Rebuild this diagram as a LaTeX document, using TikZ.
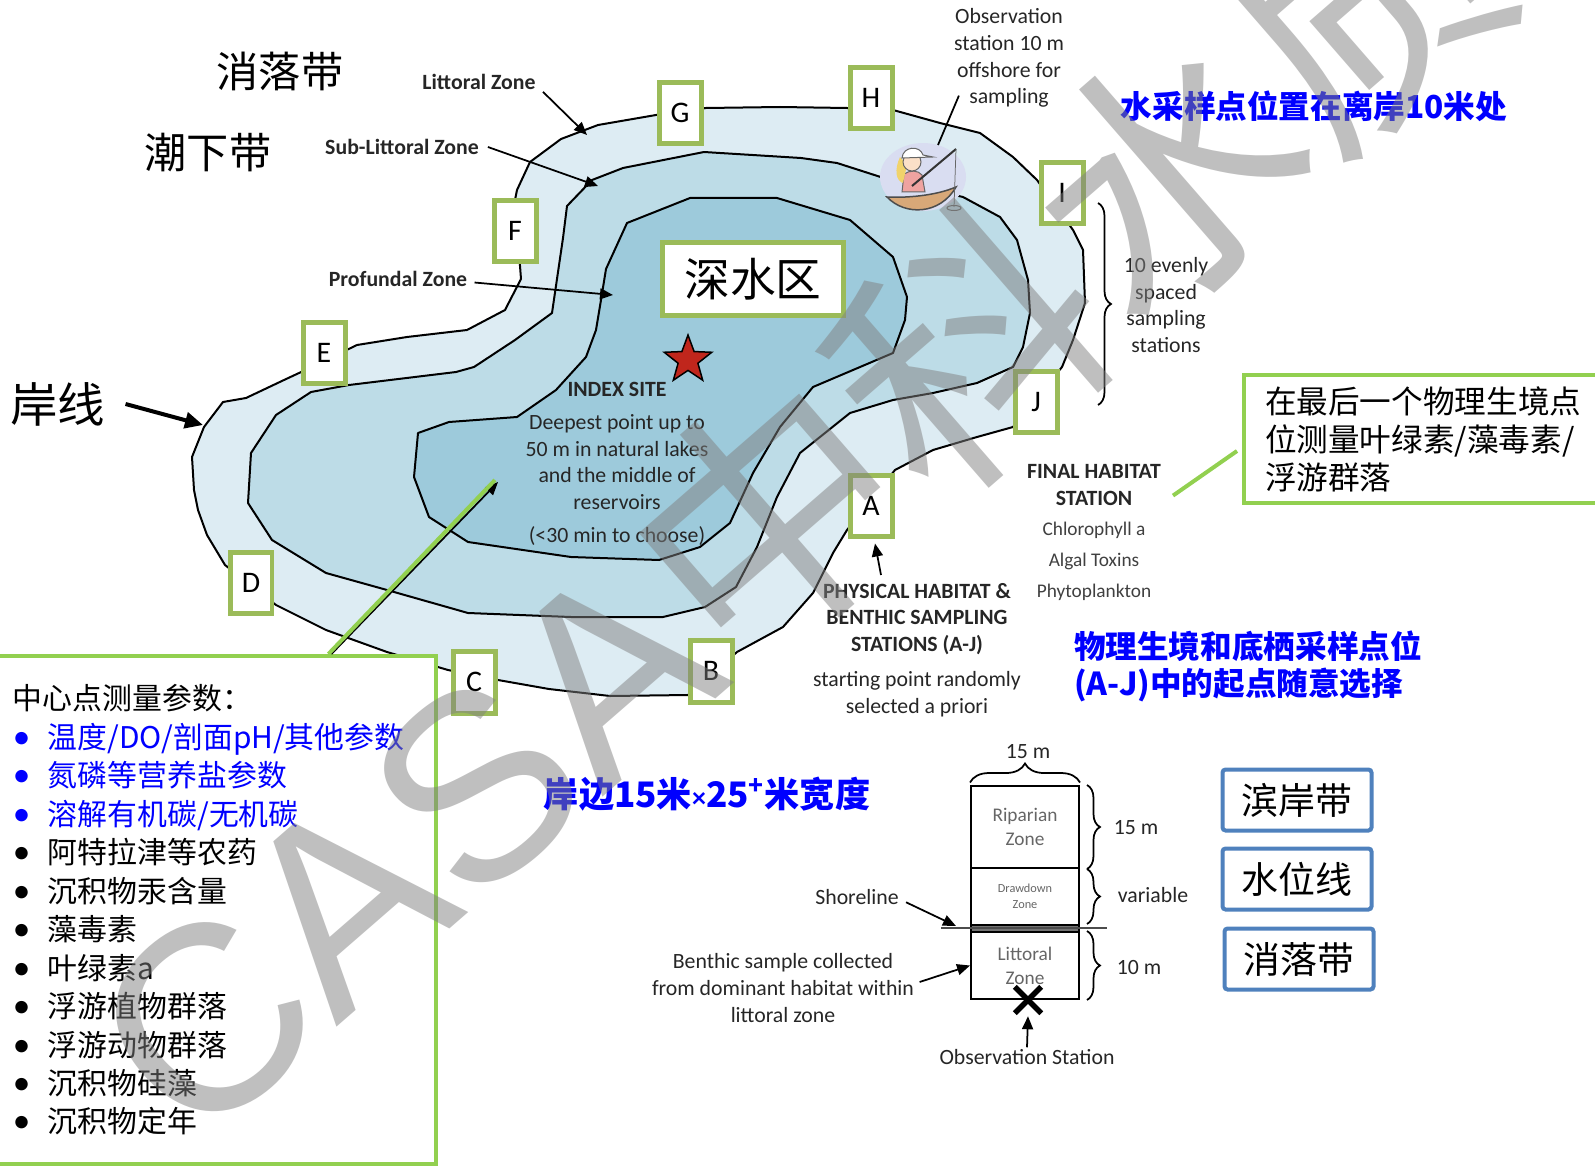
\documentclass[tikz,border=0pt]{standalone}
\usepackage{fontspec}
\setmainfont{Carlito}
\newfontfamily\cjk{Noto Sans CJK SC}
\newfontfamily\wmsans{Liberation Sans}
\usetikzlibrary{arrows.meta,shapes.geometric,shapes.misc,decorations.pathreplacing}

\definecolor{shallow}{HTML}{DDECF3}
\definecolor{midwater}{HTML}{BDDCE7}
\definecolor{deepwater}{HTML}{9DCADB}
\definecolor{olivegreen}{HTML}{9BBB59}
\definecolor{limegreen}{HTML}{92D050}
\definecolor{boxblue}{HTML}{4F81BD}
\definecolor{inkgray}{HTML}{262626}
\definecolor{starred}{HTML}{C0261C}
\definecolor{boattan}{HTML}{D8A878}
\definecolor{glow}{HTML}{D9DDF1}
\definecolor{shirtpink}{HTML}{EFA3A0}
\definecolor{skin}{HTML}{FBE0C8}
\definecolor{hairyellow}{HTML}{F1D36B}

% one bullet line of the parameter list
\newcommand\pitem[1]{\makebox[0.7cm][l]{\rmfamily\fontsize{20}{20}\selectfont\textbullet}#1}

\tikzset{
  lake/.style={draw=black, line width=0.4mm, line join=round},
  station/.style={draw=olivegreen, fill=white, line width=1mm, minimum width=0.84cm,
    minimum height=1.24cm, inner sep=0pt, font=\fontsize{17}{17}\selectfont},
  lbl/.style={inner sep=1pt, text=inkgray},
  zonelbl/.style={lbl, font=\bfseries\fontsize{12.4}{14}\selectfont},
  note/.style={lbl, align=center, font=\fontsize{12.4}{15.2}\selectfont},
  boldnote/.style={lbl, align=center, font=\bfseries\fontsize{12.4}{15.2}\selectfont},
  cjkbig/.style={inner sep=1pt, font=\cjk\fontsize{24}{28}\selectfont},
  bluenote/.style={inner sep=1pt, text=blue, font=\cjk\bfseries\fontsize{18}{21}\selectfont},
  blueframe/.style={draw=boxblue, fill=white, line width=0.8mm, rounded corners=0.06cm,
    minimum width=2.98cm, minimum height=1.22cm, font=\cjk\fontsize{21}{24}\selectfont},
  greenframe/.style={draw=limegreen, fill=white, line width=0.8mm},
  zonecell/.style={draw, line width=0.4mm, minimum width=2.16cm, inner sep=0pt,
    align=center, text=black!60},
  zonebrace/.style={decorate, decoration={brace, amplitude=0.26cm}, line width=0.35mm},
  arr/.style={-{Triangle[length=2.6mm,width=2.2mm]}, line width=0.35mm},
  bigarr/.style={-{Triangle[length=3.6mm,width=3.2mm]}, line width=0.8mm},
  callout/.style={limegreen, line width=0.8mm},
}

\begin{document}
\begin{tikzpicture}[x=0.02cm, y=-0.02cm]
\useasboundingbox (0,0) rectangle (1595,1169);

% lake zones, outermost first
\filldraw[lake, fill=shallow] (204,427) -- (192,457) -- (194,490) -- (198,510) -- (207,535)
  -- (225,565) -- (276,605) -- (326,630) -- (387,652) -- (448,670) -- (498,680) -- (549,689)
  -- (610,696) -- (688,695) -- (737,652) -- (783,627) -- (813,593) -- (833,553) -- (847,530)
  -- (895,470) -- (933,450) -- (977,437) -- (1013,427) -- (1062,367) -- (1073,340)
  -- (1085,303) -- (1083,250) -- (1073,230) -- (1037,180) -- (1013,157) -- (980,133)
  -- (940,123) -- (893,110) -- (847,108) -- (780,107) -- (706,108) -- (656,115) -- (598,125)
  -- (561,139) -- (530,162) -- (517,190) -- (515,200) -- (521,279) -- (505,310) -- (467,330)
  -- (407,337) -- (357,345) -- (299,373) -- (284,380) -- (246,398) -- (223,402) -- cycle;
\filldraw[lake, fill=midwater] (801,158) -- (704,152) -- (623,168) -- (592,180) -- (567,206)
  -- (563,238) -- (552,313) -- (515,340) -- (474,367) -- (456,372) -- (349,385) -- (311,392)
  -- (276,415) -- (251,453) -- (248,503) -- (272,540) -- (326,573) -- (387,590) -- (468,613)
  -- (571,617) -- (663,617) -- (705,607) -- (736,587) -- (757,547) -- (777,497) -- (800,453)
  -- (850,413) -- (893,400) -- (933,393) -- (977,383) -- (1013,367) -- (1023,347)
  -- (1030,313) -- (1028,280) -- (1017,240) -- (1000,217) -- (963,197) -- (890,180)
  -- (837,163) -- cycle;
\filldraw[lake, fill=deepwater] (690,198) -- (777,198) -- (850,220) -- (893,257) -- (907,297)
  -- (905,320) -- (893,353) -- (813,387) -- (780,427) -- (753,473) -- (730,523) -- (700,547)
  -- (659,560) -- (571,557) -- (468,542) -- (429,517) -- (414,477) -- (418,433) -- (449,422)
  -- (517,417) -- (556,390) -- (586,357) -- (596,330) -- (600,306) -- (606,269) -- (627,223)
  -- cycle;

% zone names on the left
\node[cjkbig] (xiaoluo) at (280,71) {消落带};
\node[cjkbig] (chaoxia) at (208,153) {潮下带};
\node[cjkbig, font=\cjk\fontsize{27}{30}\selectfont] (anxian) at (58,404) {岸线};
\coordinate (shorept) at (203,425);
\draw[bigarr] ([xshift=0.36cm]anxian.east) -- (shorept);

\node[zonelbl] (littorallbl) at (479,82) {Littoral Zone};
\node[zonelbl] (sublbl) at (402,147) {Sub-Littoral Zone};
\node[zonelbl] (proflbl) at (398,279) {Profundal Zone};
\coordinate (littoralpt) at (587,135);
\coordinate (subpt) at (598,186);
\coordinate (profpt) at (613,295);
\draw[arr] ([xshift=3pt]littorallbl.south east) -- (littoralpt);
\draw[arr] ([xshift=4pt]sublbl.east) -- (subpt);
\draw[arr] ([xshift=3pt,yshift=-2pt]proflbl.east) -- (profpt);

% sampling stations A-J
\foreach \s/\px/\py in {A/871/506, B/711/671, C/474/682, D/251/583, E/324/353,
                        F/515/231, G/680/113, H/871/98, I/1062/193, J/1036/402}
  \node[station] (st\s) at (\px,\py) {\s};

\node[draw=olivegreen, fill=white, line width=1mm, minimum width=3.62cm, minimum height=1.46cm,
  font=\cjk\fontsize{26}{28}\selectfont] (deepzone) at (753,279) {深水区};

% index site
\node[star, star points=5, star point ratio=2.4, fill=starred, draw=black, line width=0.3mm,
  minimum size=1.0cm, inner sep=0pt] (star) at (688,360) {};
\node[boldnote] (indexlbl) at (617,389) {INDEX SITE};
\node[note] (deeplbl) at (617,462) {Deepest point up to\\50 m in natural lakes\\and the middle of\\reservoirs};
\node[note] (choose) at (617,536) {(<30 min to choose)};

% angler in the boat
\fill[glow] (923,177) ellipse [x radius=0.86cm, y radius=0.68cm];
\filldraw[fill=boattan, draw=black!70, line width=0.3mm] (887,197) .. controls (905,216) and (940,215) .. (956,187)
  .. controls (935,196) and (905,198) .. cycle;
\filldraw[fill=shirtpink, draw=black!60, line width=0.2mm] (902,192) -- (904,174) .. controls (910,170) and (918,170) .. (922,175) -- (925,192) -- cycle;
\fill[hairyellow] (900,157) .. controls (894,170) and (896,181) .. (903,183) -- (907,165) -- cycle;
\filldraw[fill=skin, draw=black!60, line width=0.2mm] (912,162) circle[radius=0.18cm];
\filldraw[fill=white, draw=black!60, line width=0.2mm] (902,158) .. controls (903,146) and (920,145) .. (923,155)
  -- (933,157) -- cycle;
\draw[black!80, line width=0.4mm] (912,186) -- (956,149);
\draw[black!60, line width=0.15mm] (956,149) -- (954,207);
\draw[black!60, line width=0.2mm] (954,208) ellipse [x radius=0.14cm, y radius=0.05cm];

\node[note] (obslbl) at (1009,58) {Observation\\station 10 m\\offshore for\\sampling};
\coordinate (anglerpt) at (938,145);
\draw[line width=0.35mm] ([xshift=0.14cm,yshift=0.28cm]obslbl.south west) -- (anglerpt);

\node[bluenote] (watersite) at (1314,106) {水采样点位置在离岸10米处};

% ten evenly spaced stations
\draw[zonebrace] (1098,203) -- (1098,405);
\node[note] (evenlbl) at (1166,305) {10 evenly\\spaced\\sampling\\stations};

% final habitat station
\node[boldnote] (finallbl) at (1094,485) {FINAL HABITAT\\STATION};
\node[lbl, align=center, font=\fontsize{11}{17.6}\selectfont, text=black!75] (finalpars) at (1094,561)
  {Chlorophyll a\\Algal Toxins\\Phytoplankton};
\node[greenframe, anchor=north west, minimum height=2.56cm, text width=6.6cm, inner xsep=0.42cm,
  align=left, font=\cjk\fontsize{18}{21.6}\selectfont] (lastbox) at (1242,373)
  {在最后一个物理生境点\\位测量叶绿素/藻毒素/\\浮游群落};
\draw[callout] ([xshift=0.2cm,yshift=0.24cm]finallbl.south east) -- ([shift={(-0.1cm,-0.24cm)}]lastbox.west);

% physical habitat stations
\node[boldnote] (physlbl) at (917,619) {PHYSICAL HABITAT \&\\BENTHIC SAMPLING\\STATIONS (A-J)};
\node[note] (startlbl) at (917,694) {starting point randomly\\selected a priori};
\draw[arr] ([xshift=-0.72cm,yshift=0.12cm]physlbl.north) -- ([xshift=0.08cm,yshift=-0.08cm]stA.south);
\node[bluenote, anchor=west, align=left, font=\cjk\bfseries\fontsize{18}{21}\selectfont] (startcn) at (1072,666)
  {物理生境和底栖采样点位\\(A-J)中的起点随意选择};

\node[bluenote, font=\cjk\bfseries\fontsize{20}{22}\selectfont] (bankwidth) at (707,794)
  {岸边15米{\rmfamily\fontsize{16}{16}\selectfont×}25\textsuperscript{+}米宽度};

% shoreline cross section
\node[zonecell, minimum height=1.64cm, font=\fontsize{11}{13.7}\selectfont] (ripbox) at (1025,827) {Riparian\\Zone};
\node[zonecell, minimum height=1.14cm, font=\fontsize{7}{9}\selectfont] (drawbox) at (1025,896.5) {Drawdown\\Zone};
\node[zonecell, minimum height=0.14cm, fill=black!55] (bandbox) at (1025,928.5) {};
\node[zonecell, minimum height=1.34cm, font=\fontsize{11}{13.7}\selectfont] (litbox) at (1025,965.5) {Littoral\\Zone};
\coordinate (shoreW) at (941,928);
\coordinate (shoreE) at (1107,928);
\draw[line width=0.5mm, black!70] (shoreW) -- (shoreE);

\draw[zonebrace, decoration={amplitude=0.38cm}] ([yshift=0.05cm]ripbox.north west) -- ([yshift=0.05cm]ripbox.north east);
\node[note] (widthlbl) at (1028,752) {15 m};
\draw[zonebrace] ([xshift=0.14cm]ripbox.north east) -- ([xshift=0.14cm]ripbox.south east);
\draw[zonebrace] ([xshift=0.14cm,yshift=-0.04cm]drawbox.north east) -- ([xshift=0.14cm,yshift=0.04cm]drawbox.south east);
\draw[zonebrace] ([xshift=0.14cm]litbox.north east) -- ([xshift=0.14cm]litbox.south east);
\node[note] (riplbl) at (1136,828) {15 m};
\node[note] (varlbl) at (1153,895) {variable};
\node[note] (litlbl) at (1139,967) {10 m};

\node[note] (shorelbl) at (857,897) {Shoreline};
\coordinate (shorelinept) at (956,926);
\draw[arr] ([xshift=3pt,yshift=-3pt]shorelbl.east) -- (shorelinept);
\node[note] (benthlbl) at (783,988) {Benthic sample collected\\from dominant habitat within\\littoral zone};
\draw[arr] ([xshift=2pt,yshift=0.12cm]benthlbl.east) -- (litbox.west);

\node[cross out, draw, line width=1.1mm, minimum size=0.42cm, inner sep=0pt] (xmark) at (1028,1000) {};
\node[note] (obsstn) at (1027,1057) {Observation Station};
\draw[arr] (obsstn.north) -- ([yshift=-0.06cm]xmark.south);

% zone legend boxes
\node[blueframe] (binan) at (1297,800) {滨岸带};
\node[blueframe] (shuiwei) at (1297,879) {水位线};
\node[blueframe] (xiaoluo2) at (1299,959) {消落带};

% parameters measured at the index site
\node[greenframe, anchor=north west, minimum height=10.16cm, text width=8.14cm, inner xsep=0.32cm,
  align=left, font=\cjk\fontsize{17}{21.9}\selectfont] (paramlist) at (-5,654)
  {中心点测量参数：\\
   \textcolor{blue}{\pitem{温度/DO/剖面pH/其他参数}}\\
   \textcolor{blue}{\pitem{氮磷等营养盐参数}}\\
   \textcolor{blue}{\pitem{溶解有机碳/无机碳}}\\
   \pitem{阿特拉津等农药}\\
   \pitem{沉积物汞含量}\\
   \pitem{藻毒素}\\
   \pitem{叶绿素a}\\
   \pitem{浮游植物群落}\\
   \pitem{浮游动物群落}\\
   \pitem{沉积物硅藻}\\
   \pitem{沉积物定年}};
\coordinate (indexpt) at (498,482);
\draw[arr] ([xshift=2.3cm]paramlist.north) -- (indexpt);
\draw[callout] ([xshift=2.24cm]paramlist.north) -- ([xshift=-0.06cm,yshift=0.04cm]indexpt);

% watermark
\node[rotate=41, text=black!50, text opacity=0.5, inner sep=0pt,
  font=\cjk\fontsize{150}{150}\selectfont] (mark) at (796,496) {{\wmsans CASA}中科水质};
\end{tikzpicture}
\end{document}
